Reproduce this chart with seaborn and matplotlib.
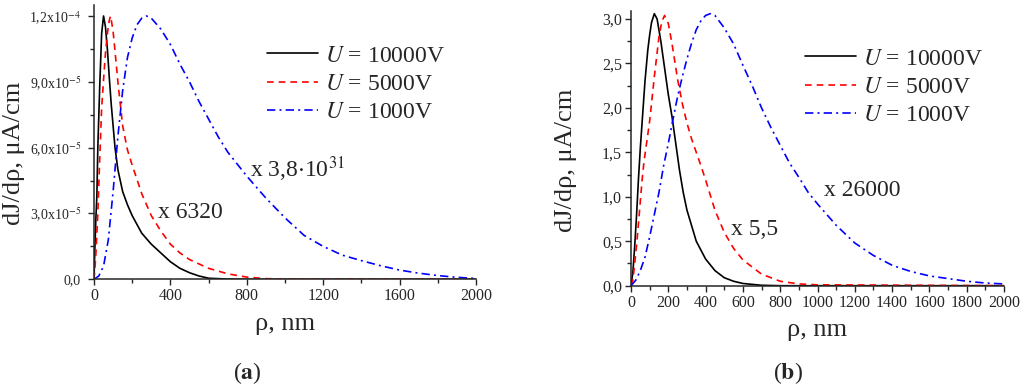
import numpy as np
import pandas as pd
import matplotlib
matplotlib.use("Agg")
import matplotlib.pyplot as plt
from matplotlib.ticker import MultipleLocator, FuncFormatter
from matplotlib.lines import Line2D
import seaborn as sns

# ---------------- data ----------------
# Panel (a): values in units of 1e-5 uA/cm
a_black_x = [0, 5, 10, 15, 20, 30, 40, 50, 60, 70, 80, 90, 100, 110, 125, 150, 175, 200,
             250, 300, 350, 400, 450, 500, 550, 600, 700, 800, 2000]
a_black_y = [0, 1.5, 2.8, 3.8, 6.0, 8.8, 11.2, 12.0, 11.5, 10.5, 9.2, 8.0, 7.0, 6.0, 5.0,
             4.0, 3.4, 2.9, 2.1, 1.6, 1.2, 0.8, 0.5, 0.3, 0.15, 0.05, 0.01, 0.0, 0.0]

a_red_x = [0, 5, 10, 20, 30, 40, 50, 60, 70, 80, 87, 100, 110, 125, 150, 175, 200, 250, 300,
           350, 400, 450, 500, 550, 600, 700, 800, 900, 1000, 2000]
a_red_y = [0, 0.5, 1.2, 3.0, 5.5, 7.8, 9.1, 10.3, 11.2, 11.8, 12.0, 11.3, 10.4, 9.0, 7.0,
           5.9, 5.2, 3.9, 2.9, 2.2, 1.6, 1.2, 0.9, 0.7, 0.5, 0.25, 0.1, 0.03, 0.01, 0.0]

a_blue_x = [0, 25, 50, 75, 100, 125, 150, 175, 200, 225, 250, 275, 300, 350, 400, 450, 500,
            550, 600, 650, 700, 800, 900, 1000, 1100, 1200, 1300, 1400, 1500, 1600, 1700,
            1800, 1900, 2000]
a_blue_y = [0, 0.15, 0.6, 1.8, 4.0, 6.5, 8.6, 10.1, 11.0, 11.6, 11.9, 12.0, 11.9, 11.4,
            10.7, 9.8, 9.0, 8.1, 7.3, 6.5, 5.8, 4.7, 3.7, 2.8, 2.0, 1.5, 1.1, 0.85, 0.62,
            0.42, 0.28, 0.17, 0.09, 0.04]
a_scale = 1e-5

# Panel (b): values in uA/cm
b_black_x = [0, 10, 20, 30, 40, 50, 60, 75, 90, 100, 110, 125, 140, 160, 180, 200, 220, 240,
             260, 280, 300, 350, 400, 450, 500, 550, 600, 700, 800, 2000]
b_black_y = [0, 0.15, 0.45, 0.8, 1.2, 1.55, 1.85, 2.3, 2.65, 2.82, 2.96, 3.06, 3.0, 2.75,
             2.45, 2.15, 1.9, 1.6, 1.3, 1.05, 0.85, 0.5, 0.3, 0.17, 0.09, 0.05, 0.025,
             0.005, 0.0, 0.0]

b_red_x = [0, 10, 20, 30, 40, 50, 60, 70, 80, 90, 100, 110, 125, 150, 165, 180, 200, 220,
           250, 275, 300, 325, 350, 375, 400, 450, 500, 550, 600, 700, 800, 900, 1000, 2000]
b_red_y = [0, 0.06, 0.25, 0.46, 0.7, 0.95, 1.2, 1.4, 1.55, 1.7, 1.85, 2.05, 2.35, 2.8, 2.97,
           3.04, 2.95, 2.72, 2.32, 2.05, 1.83, 1.65, 1.5, 1.35, 1.19, 0.85, 0.6, 0.42,
           0.29, 0.13, 0.05, 0.02, 0.01, 0.0]

b_blue_x = [0, 25, 50, 75, 100, 125, 150, 175, 200, 225, 250, 275, 300, 325, 350, 375, 400,
            425, 450, 500, 550, 600, 650, 700, 750, 800, 850, 900, 950, 1000, 1100, 1200,
            1300, 1400, 1500, 1600, 1700, 1800, 1900, 2000]
b_blue_y = [0, 0.06, 0.17, 0.32, 0.55, 0.8, 1.05, 1.35, 1.6, 1.87, 2.13, 2.35, 2.55, 2.73,
            2.88, 2.98, 3.04, 3.06, 3.04, 2.9, 2.72, 2.48, 2.25, 2.0, 1.78, 1.58, 1.38, 1.22,
            1.05, 0.92, 0.68, 0.48, 0.34, 0.23, 0.16, 0.11, 0.08, 0.05, 0.03, 0.02]

labels = [r"$U$ = 10000V", r"$U$ = 5000V", r"$U$ = 1000V"]
factors_a = ["x 6320", r"x 3,8$\cdot$10$^{31}$"]
factors_b = ["x 5,5", "x 26000"]
xlabel = "ρ, nm"
ylabel = "dJ/dρ, μA/cm"

# ---------------- style ----------------
sns.set_theme(style="ticks")
plt.rcParams["font.family"] = ["Liberation Serif", "DejaVu Serif"]
plt.rcParams["mathtext.fontset"] = "stix"
plt.rcParams["axes.linewidth"] = 1.1
plt.rcParams["xtick.direction"] = "out"
plt.rcParams["ytick.direction"] = "out"

colors = ["black", "#ff0000", "#0000ff"]
styles = ["-", (0, (4, 3)), (0, (5, 2.5, 1.2, 2.5))]

fig = plt.figure(figsize=(10.24, 3.85), dpi=100)
ax_a = fig.add_axes([94 / 1024, 1 - 279.3 / 385, 382 / 1024, 274.3 / 385])
ax_b = fig.add_axes([631 / 1024, 1 - 285.7 / 385, 373 / 1024, 274.7 / 385])

series_a = [(a_black_x, a_black_y), (a_red_x, a_red_y), (a_blue_x, a_blue_y)]
series_b = [(b_black_x, b_black_y), (b_red_x, b_red_y), (b_blue_x, b_blue_y)]

for i, (xs, ys) in enumerate(series_a):
    df = pd.DataFrame({"x": xs, "y": np.array(ys) * a_scale})
    sns.lineplot(data=df, x="x", y="y", ax=ax_a, color=colors[i], linestyle=styles[i],
                 linewidth=1.2, sort=True, estimator=None)
for i, (xs, ys) in enumerate(series_b):
    df = pd.DataFrame({"x": xs, "y": ys})
    sns.lineplot(data=df, x="x", y="y", ax=ax_b, color=colors[i], linestyle=styles[i],
                 linewidth=1.2, sort=True, estimator=None)


def fmt_a(v, pos):
    if abs(v) < 1e-12:
        return "0,0"
    e = int(np.floor(np.log10(abs(v)) + 1e-9))
    m = v / 10 ** e
    return ("%.1f" % m).replace(".", ",") + "x10$^{%d}$" % e


def fmt_b(v, pos):
    return ("%.1f" % v).replace(".", ",")


for ax in (ax_a, ax_b):
    sns.despine(ax=ax)
    ax.set_xlim(0, 2000)
    ax.tick_params(axis="both", which="major", length=4.5, width=1.0, pad=2)
    ax.tick_params(axis="both", which="minor", length=3, width=1.0)
    ax.tick_params(axis="x", labelsize=11.5)
    ax.set_xlabel(xlabel, fontsize=19, labelpad=6)
    ax.set_ylabel(ylabel, fontsize=19)

ax_a.set_ylim(0, 1.25e-4)
ax_a.xaxis.set_major_locator(MultipleLocator(400))
ax_a.xaxis.set_minor_locator(MultipleLocator(200))
ax_a.yaxis.set_major_locator(MultipleLocator(3e-5))
ax_a.yaxis.set_minor_locator(MultipleLocator(1.5e-5))
ax_a.yaxis.set_major_formatter(FuncFormatter(fmt_a))
ax_a.tick_params(axis="y", labelsize=10, pad=5)
ax_a.yaxis.set_label_coords(-0.18, 0.46)

ax_b.set_ylim(0, 3.09)
ax_b.xaxis.set_major_locator(MultipleLocator(200))
ax_b.xaxis.set_minor_locator(MultipleLocator(100))
ax_b.yaxis.set_major_locator(MultipleLocator(0.5))
ax_b.yaxis.set_minor_locator(MultipleLocator(0.25))
ax_b.yaxis.set_major_formatter(FuncFormatter(fmt_b))
ax_b.tick_params(axis="y", labelsize=11.5)
ax_b.yaxis.set_label_coords(-0.145, 0.458)

handles = [Line2D([], [], color=colors[i], linestyle=styles[i], linewidth=1.2) for i in range(3)]
for ax, anchor in ((ax_a, (0.453, 0.854)), (ax_b, (0.466, 0.865))):
    ax.legend(handles, labels, loc="upper left", bbox_to_anchor=anchor, frameon=False,
              fontsize=17, handlelength=2.15, handletextpad=0.3, labelspacing=0.29,
              borderpad=0, borderaxespad=0)

ax_a.text(335, 2.78e-5, factors_a[0], fontsize=17, va="baseline", ha="left")
ax_a.text(818, 4.67e-5, factors_a[1], fontsize=17, va="baseline", ha="left")
ax_b.text(536, 0.571, factors_b[0], fontsize=17, va="baseline", ha="left")
ax_b.text(1035, 1.013, factors_b[1], fontsize=17, va="baseline", ha="left")

fig.text(0.241, 0.031, r"($\mathbf{a}$)", fontsize=17, ha="center", va="center")
fig.text(0.769, 0.031, r"($\mathbf{b}$)", fontsize=17, ha="center", va="center")

fig.savefig("out.png", dpi=100)
